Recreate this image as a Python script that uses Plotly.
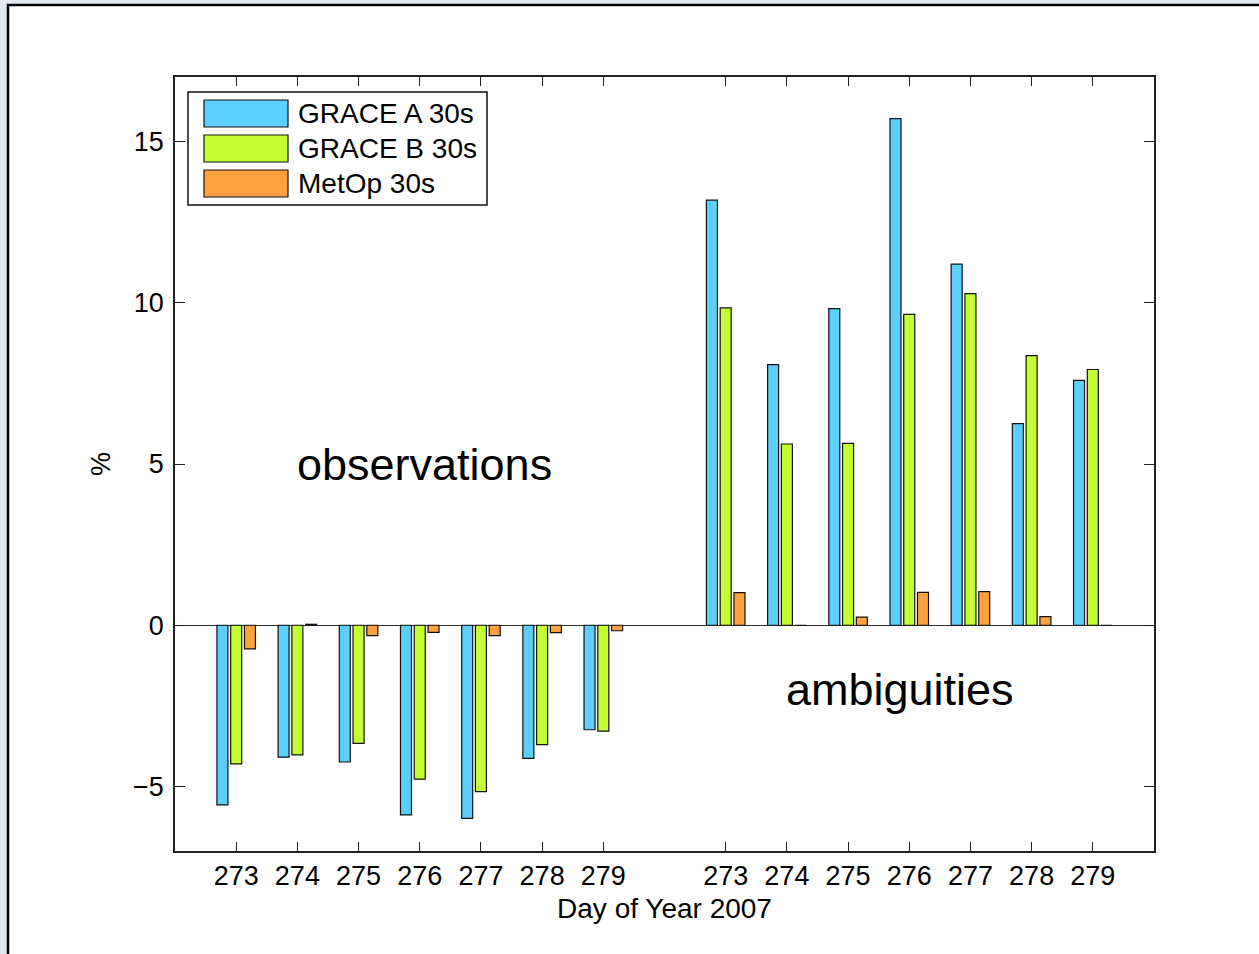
import plotly.graph_objects as go

# ---- data ----
days = ["273", "274", "275", "276", "277", "278", "279"]
# positions: observations group 1..7, ambiguities group 9..15
obs_pos = [1, 2, 3, 4, 5, 6, 7]
amb_pos = [9, 10, 11, 12, 13, 14, 15]

grace_a_obs = [-5.57, -4.09, -4.24, -5.88, -5.99, -4.13, -3.24]
grace_b_obs = [-4.30, -4.02, -3.66, -4.77, -5.16, -3.70, -3.28]
metop_obs = [-0.73, 0.03, -0.32, -0.22, -0.32, -0.23, -0.17]

grace_a_amb = [13.18, 8.08, 9.82, 15.71, 11.20, 6.25, 7.59]
grace_b_amb = [9.84, 5.62, 5.64, 9.64, 10.28, 8.36, 7.93]
metop_amb = [1.01, 0.0, 0.25, 1.02, 1.04, 0.27, 0.0]

series_names = ["GRACE A 30s", "GRACE B 30s", "MetOp 30s"]
colors = ["#5ccfff", "#c4ff33", "#ffa03f"]

# ---- layout geometry (pixels) ----
W, H = 1259, 954
L, R, T, B = 175, 1154, 77, 851


def px(x):
    return (x - L) / (R - L)


def py(y):
    return (B - y) / (B - T)


FONT = "Liberation Sans, Arial, Helvetica, sans-serif"

fig = go.Figure()
series = [
    (grace_a_obs, grace_a_amb),
    (grace_b_obs, grace_b_amb),
    (metop_obs, metop_amb),
]
for name, color, (o, a) in zip(series_names, colors, series):
    fig.add_trace(go.Bar(
        x=obs_pos + amb_pos,
        y=o + a,
        name=name,
        marker=dict(color=color, line=dict(color="#111111", width=1.2)),
        showlegend=False,
    ))

fig.update_layout(
    width=W, height=H,
    margin=dict(l=L, r=W - R, t=T, b=H - B, pad=0),
    paper_bgcolor="#e3e8ee",
    plot_bgcolor="white",
    barmode="group",
    bargap=0.325,
    bargroupgap=0.2,
    font=dict(family=FONT, size=27, color="black"),
)

fig.update_xaxes(
    range=[0, 16],
    tickvals=obs_pos + amb_pos,
    ticktext=days + days,
    ticks="inside", ticklen=9, tickwidth=1.2, tickcolor="#222",
    showline=True, linecolor="#222", linewidth=1.5, mirror="ticks",
    showgrid=False, zeroline=False,
    tickfont=dict(size=27),
    ticklabelstandoff=0,
    title=dict(text="Day of Year 2007", font=dict(size=28), standoff=8),
)
fig.update_yaxes(
    range=[-7, 17],
    tickvals=[-5, 0, 5, 10, 15],
    ticks="inside", ticklen=10, tickwidth=1.2, tickcolor="#222",
    showline=True, linecolor="#222", linewidth=1.5, mirror="ticks",
    showgrid=False,
    zeroline=True, zerolinecolor="#333", zerolinewidth=1.2,
    tickfont=dict(size=27),
    ticklabelstandoff=4,
    title=dict(text="%", font=dict(size=27), standoff=15),
)

shapes = []
# outer white frame with black top/left edge
shapes.append(dict(type="rect", xref="paper", yref="paper",
                   x0=px(8), x1=px(1300), y0=py(1000), y1=py(5),
                   fillcolor="white", line=dict(color="black", width=2.5),
                   layer="below"))
# legend box
shapes.append(dict(type="rect", xref="paper", yref="paper",
                   x0=px(188), x1=px(487), y0=py(205), y1=py(92),
                   fillcolor="white", line=dict(color="#111", width=1.5)))
annotations = []
rows = [(100, 127), (135, 162), (170, 197)]
for (top, bot), name, color in zip(rows, series_names, colors):
    shapes.append(dict(type="rect", xref="paper", yref="paper",
                       x0=px(204), x1=px(288), y0=py(bot), y1=py(top),
                       fillcolor=color, line=dict(color="#111", width=1.2)))
    annotations.append(dict(xref="paper", yref="paper",
                            x=px(296), y=py((top + bot) / 2),
                            xanchor="left", yanchor="middle",
                            text=name, showarrow=False,
                            font=dict(size=28, family=FONT)))

annotations.append(dict(xref="x", yref="y", x=4.07, y=5.0,
                        text="observations", showarrow=False,
                        font=dict(size=45, family=FONT)))
annotations.append(dict(xref="x", yref="y", x=11.85, y=-2.0,
                        text="ambiguities", showarrow=False,
                        font=dict(size=45, family=FONT)))

fig.update_layout(shapes=shapes, annotations=annotations)

fig.write_html(
    "out.html",
    config={"displayModeBar": False},
    post_script="document.body.style.margin='0px';"
                "document.body.style.overflow='hidden';",
)
